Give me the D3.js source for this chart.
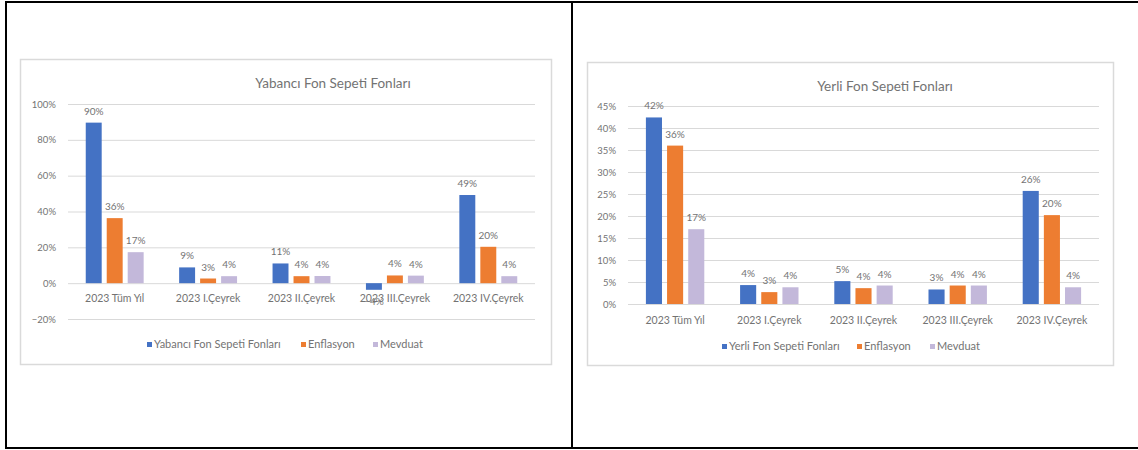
<!DOCTYPE html>
<html>
<head>
<meta charset="utf-8">
<script src="https://cdn.jsdelivr.net/npm/d3@7"></script>
<style>
  html, body { margin: 0; padding: 0; background: #fff; }
  svg { display: block; }
  text { font-family: Lato, "Open Sans", sans-serif; fill: #737373; }
</style>
</head>
<body>
<svg id="page" width="1138" height="450"></svg>
<script>
// Shared categories and series names
const categories = ["2023 Tüm Yıl", "2023 I.Çeyrek", "2023 II.Çeyrek", "2023 III.Çeyrek", "2023 IV.Çeyrek"];
const seriesColors = ["#4472C4", "#ED7D31", "#C3B8DA"];

// Foreign fund basket chart
const foreignTitle = "Yabancı Fon Sepeti Fonları";
const foreignSeries = ["Yabancı Fon Sepeti Fonları", "Enflasyon", "Mevduat"];
const foreignFund = [0.896, 0.088, 0.110, -0.037, 0.492];
const foreignInflation = [0.363, 0.026, 0.039, 0.043, 0.203];
const foreignDeposit = [0.173, 0.039, 0.040, 0.042, 0.039];
const foreignTicks = [-0.2, 0, 0.2, 0.4, 0.6, 0.8, 1.0];

// Domestic fund basket chart
const domesticTitle = "Yerli Fon Sepeti Fonları";
const domesticSeries = ["Yerli Fon Sepeti Fonları", "Enflasyon", "Mevduat"];
const domesticFund = [0.424, 0.043, 0.052, 0.033, 0.257];
const domesticInflation = [0.36, 0.027, 0.036, 0.042, 0.202];
const domesticDeposit = [0.17, 0.038, 0.042, 0.042, 0.038];
const domesticTicks = [0, 0.05, 0.10, 0.15, 0.20, 0.25, 0.30, 0.35, 0.40, 0.45];

const svg = d3.select("#page");
const pct = d3.format(".0%");

// Page frame: top, bottom, left edges and the middle divider
const frame = svg.append("g").attr("stroke", "#000").attr("stroke-width", 2);
frame.append("line").attr("x1", 5).attr("x2", 1138).attr("y1", 2).attr("y2", 2);
frame.append("line").attr("x1", 5).attr("x2", 1138).attr("y1", 448).attr("y2", 448);
frame.append("line").attr("x1", 6).attr("x2", 6).attr("y1", 1).attr("y2", 449);
frame.append("line").attr("x1", 572).attr("x2", 572).attr("y1", 1).attr("y2", 449);

function drawChart(opt) {
  const g = svg.append("g");
  // chart area box
  g.append("rect")
    .attr("x", opt.box[0] + 0.5).attr("y", opt.box[1] + 0.5)
    .attr("width", opt.box[2]).attr("height", opt.box[3])
    .attr("fill", "#fff").attr("stroke", "#DADADA").attr("stroke-width", 1.5);

  g.append("text")
    .attr("x", opt.titleX).attr("y", opt.titleY)
    .attr("text-anchor", "middle").attr("font-size", 13.5)
    .text(opt.title);

  const x0 = d3.scaleBand().domain(categories).range(opt.xRange)
    .paddingInner(0.38).paddingOuter(0.19);
  const x1 = d3.scaleBand().domain(d3.range(opt.series.length))
    .range([0, x0.bandwidth()]).paddingInner(0.24).paddingOuter(0);
  const y = d3.scaleLinear().domain(opt.yDomain).range(opt.yRange);

  // gridlines and tick labels
  const yAxis = d3.axisLeft(y).tickValues(opt.ticks).tickFormat(pct)
    .tickSize(-(opt.xRange[1] - opt.xRange[0])).tickPadding(12);
  const ag = g.append("g").attr("transform", `translate(${opt.xRange[0]},0)`).call(yAxis);
  ag.select(".domain").remove();
  ag.selectAll(".tick line").attr("stroke", "#D9D9D9").attr("stroke-width", 1);
  ag.selectAll(".tick text").attr("font-size", 9.5).attr("fill", "#737373")
    .attr("font-family", "Lato, sans-serif");

  // category labels
  g.append("g").selectAll("text").data(categories).join("text")
    .attr("x", d => x0(d) + x0.bandwidth() / 2)
    .attr("y", opt.catY)
    .attr("text-anchor", "middle").attr("font-size", 10.5)
    .text(d => d);

  const rows = categories.map((c, i) => ({ c, vals: opt.values.map(v => v[i]) }));
  const groups = g.append("g").selectAll("g").data(rows).join("g")
    .attr("transform", d => `translate(${x0(d.c)},0)`);

  groups.selectAll("rect").data(d => d.vals).join("rect")
    .attr("x", (v, j) => x1(j))
    .attr("width", x1.bandwidth())
    .attr("y", v => y(Math.max(0, v)))
    .attr("height", v => Math.abs(y(v) - y(0)))
    .attr("fill", (v, j) => seriesColors[j]);

  groups.selectAll("text").data(d => d.vals).join("text")
    .attr("x", (v, j) => x1(j) + x1.bandwidth() / 2)
    .attr("y", v => v >= 0 ? y(v) - 8 : y(v) + 15)
    .attr("text-anchor", "middle").attr("font-size", 10)
    .text(v => pct(v));

  // legend
  const lg = g.append("g");
  opt.series.forEach((s, j) => {
    lg.append("rect")
      .attr("x", opt.legendX[j]).attr("y", opt.legendY - 6)
      .attr("width", 5).attr("height", 5).attr("fill", seriesColors[j]);
    lg.append("text")
      .attr("x", opt.legendX[j] + 7).attr("y", opt.legendY)
      .attr("font-size", 11).text(s);
  });
}

drawChart({
  box: [20, 59, 531, 305],
  title: foreignTitle, titleX: 333, titleY: 88,
  xRange: [68, 535], yDomain: [-0.2, 1.0], yRange: [319, 104],
  ticks: foreignTicks,
  series: foreignSeries,
  values: [foreignFund, foreignInflation, foreignDeposit],
  catY: 302,
  legendX: [147, 301, 373], legendY: 348
});

drawChart({
  box: [587, 62, 526, 303],
  title: domesticTitle, titleX: 885, titleY: 91,
  xRange: [628, 1099], yDomain: [0, 0.45], yRange: [304, 106],
  ticks: domesticTicks,
  series: domesticSeries,
  values: [domesticFund, domesticInflation, domesticDeposit],
  catY: 324,
  legendX: [722, 857, 930], legendY: 350
});
</script>
</body>
</html>
